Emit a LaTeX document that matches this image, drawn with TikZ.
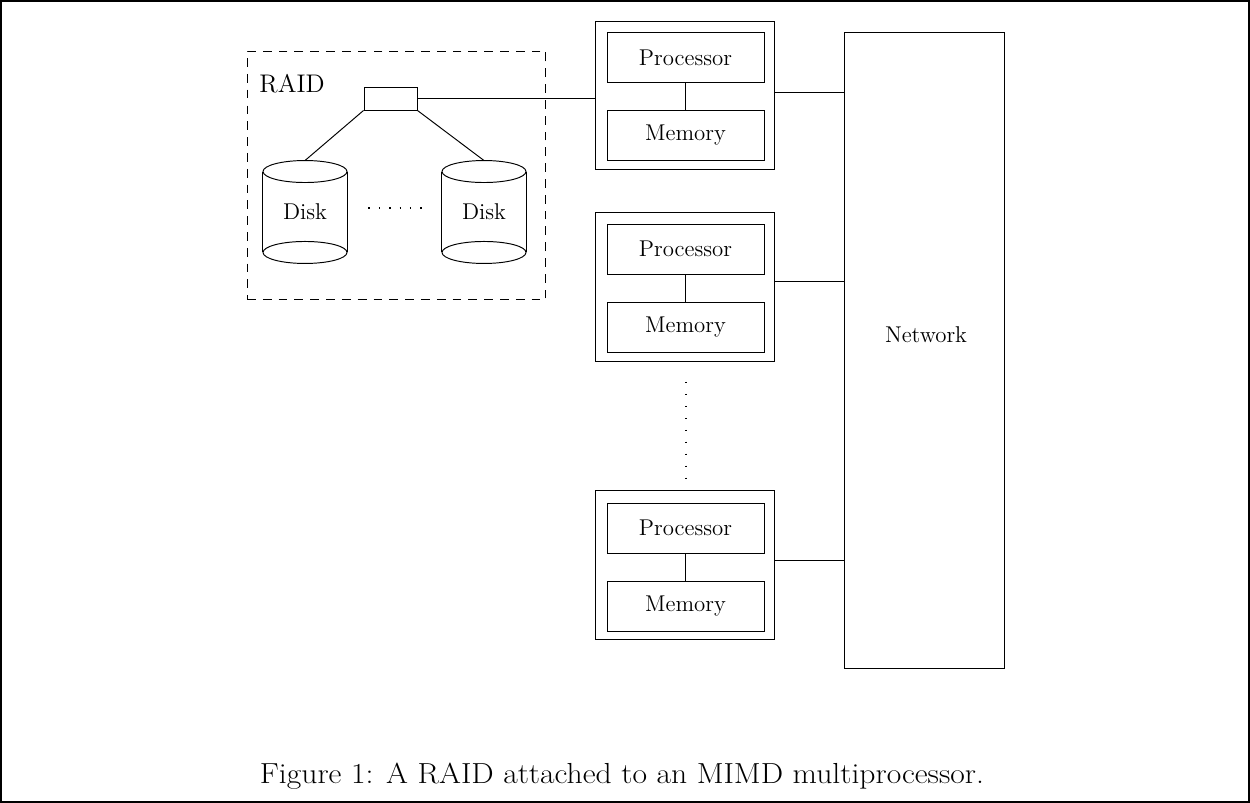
\documentclass[tikz,border=0pt]{standalone}
\usepackage{fontspec}
\newfontfamily\capfont{Latin Modern Roman}[FakeStretch=1.09]
\usetikzlibrary{positioning, calc}

\begin{document}
\begin{tikzpicture}[
    x=0.02cm, y=-0.02cm,
    line width=0.55pt,
    every node/.style={font=\fontsize{13}{15}\selectfont},
    frame/.style={line width=1.1pt},
    raidbox/.style={draw, dash pattern=on 5pt off 4pt, minimum width=5.98cm, minimum height=4.98cm, inner sep=0},
    ctrlbox/.style={draw, minimum width=1.06cm, minimum height=0.46cm, inner sep=0},
    disk/.style={minimum width=1.68cm, minimum height=2.04cm, inner sep=0},
    pe/.style={draw, minimum width=3.58cm, minimum height=2.98cm, inner sep=0},
    unit/.style={draw, minimum width=3.14cm, minimum height=1.0cm, inner sep=0},
    network/.style={draw, minimum width=3.2cm, minimum height=12.74cm, inner sep=0},
    hdots/.style={line width=0.8pt, dash pattern=on 0.8pt off 5.1pt},
    vdots/.style={line width=0.8pt, dash pattern=on 0.8pt off 6.0pt},
    caption/.style={font=\capfont\fontsize{16.5}{20}\selectfont}
]
\useasboundingbox (0,0) rectangle (1250,803);
\draw[frame] (1,1) rectangle (1249,802);

% RAID
\node[raidbox] (raid) at (396.5,175.5) {};
\node[anchor=west, inner sep=0, font=\fontsize{14.5}{17}\selectfont] (raidlabel) at (259,84) {RAID};
\node[ctrlbox] (ctrl) at (390.5,98.5) {};

% Disks
\node[disk] (disk1) at (305,212) {Disk};
\node[disk] (disk2) at (484,212) {Disk};
\foreach \d in {disk1, disk2} {
  \draw ([yshift=-0.22cm]\d.north) ellipse [x radius=0.84cm, y radius=0.22cm];
  \draw ([yshift=0.22cm]\d.south) ellipse [x radius=0.84cm, y radius=0.22cm];
  \draw ([yshift=-0.22cm]\d.north west) -- ([yshift=0.22cm]\d.south west);
  \draw ([yshift=-0.22cm]\d.north east) -- ([yshift=0.22cm]\d.south east);
}
\draw (ctrl.south west) -- (disk1.north);
\draw (ctrl.south east) -- (disk2.north);
\draw[hdots, shorten <=0.42cm, shorten >=0.38cm] ([yshift=0.08cm]disk1.east) -- ([yshift=0.08cm]disk2.west);

% Processing elements
\node[pe] (pe1) at (684.5,95.5) {};
\node[unit] (proc1) at (685.5,57.5) {Processor};
\node[unit] (mem1) at (685.5,135.5) {Memory};
\draw (proc1) -- (mem1);

\node[pe] (pe2) at (684.5,287) {};
\node[unit] (proc2) at (685.5,249) {Processor};
\node[unit] (mem2) at (685.5,327) {Memory};
\draw (proc2) -- (mem2);

\node[pe] (pe3) at (684.5,565) {};
\node[unit] (proc3) at (685.5,528) {Processor};
\node[unit] (mem3) at (685.5,606) {Memory};
\draw (proc3) -- (mem3);

\draw[vdots, shorten <=0.4cm, shorten >=0.22cm] ([xshift=0.03cm]pe2.south) -- ([xshift=0.03cm]pe3.north);

% Network
\node[network] (net) at (924,350.5) {};
\node (netlabel) at (926,335) {Network};

\draw (ctrl.east) -- (ctrl.east -| pe1.west);
\draw ([yshift=0.07cm]pe1.east) -- ([yshift=0.07cm]pe1.east -| net.west);
\draw ([yshift=0.11cm]pe2.east) -- ([yshift=0.11cm]pe2.east -| net.west);
\draw ([yshift=0.1cm]pe3.east) -- ([yshift=0.1cm]pe3.east -| net.west);

% Caption
\node[caption] (cap) at (622,776) {Figure 1: A RAID attached to an MIMD multiprocessor.};

\end{tikzpicture}
\end{document}
